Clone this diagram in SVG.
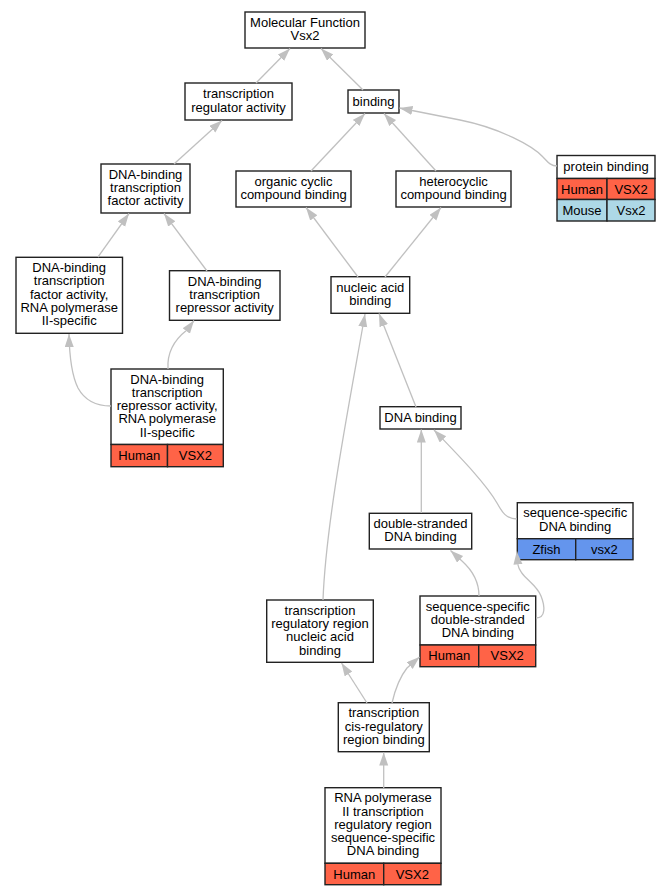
<svg xmlns="http://www.w3.org/2000/svg" width="669" height="896" viewBox="0 0 669 896">
<style>
rect{fill:#fff;stroke:#222;stroke-width:1.4}
rect.h{fill:#ff6347}
rect.m{fill:#add8e6}
rect.z{fill:#6495ed}
text{font-family:"Liberation Sans",Arial,sans-serif;font-size:13px;text-anchor:middle;fill:#000}
#edges path{fill:none;stroke:#c0c0c0;stroke-width:1.3;marker-end:url(#arr)}
</style>
<defs>
<marker id="arr" markerUnits="userSpaceOnUse" markerWidth="14" markerHeight="10" refX="13" refY="4.5" orient="auto" viewBox="0 0 14 10">
<path d="M0,0 L13,4.5 L0,9 z" fill="#c0c0c0"/>
</marker>
</defs>
<rect x="0" y="0" width="669" height="896" style="fill:#fff;stroke:none"/>
<g id="n1"><rect x="245" y="12" width="120" height="36"/><text x="305" y="26.7">Molecular Function</text><text x="305" y="40">Vsx2</text></g>
<g id="n2"><rect x="185" y="83" width="107" height="37"/><text x="238.5" y="98.2">transcription</text><text x="238.5" y="111.5">regulator activity</text></g>
<g id="n3"><rect x="348" y="90" width="51" height="23"/><text x="373.5" y="105.5">binding</text></g>
<g id="n4"><rect x="101" y="164" width="89" height="49"/><text x="145.5" y="178.5">DNA-binding</text><text x="145.5" y="191.8">transcription</text><text x="145.5" y="205.1">factor activity</text></g>
<g id="n5"><rect x="236" y="171" width="115" height="36"/><text x="293.5" y="185.7">organic cyclic</text><text x="293.5" y="199">compound binding</text></g>
<g id="n6"><rect x="396" y="171" width="115" height="36"/><text x="453.5" y="185.7">heterocyclic</text><text x="453.5" y="199">compound binding</text></g>
<g id="n7"><rect x="557" y="155.5" width="98" height="23"/><rect class="h" x="557" y="178.5" width="50" height="21"/><rect class="h" x="607" y="178.5" width="48" height="21"/><rect class="m" x="557" y="199.5" width="50" height="21.5"/><rect class="m" x="607" y="199.5" width="48" height="21.5"/><text x="606" y="171">protein binding</text><text x="582" y="193.5">Human</text><text x="631" y="193.5">VSX2</text><text x="582" y="214.7">Mouse</text><text x="631" y="214.7">Vsx2</text></g>
<g id="n8"><rect x="16" y="257.3" width="106.5" height="76"/><text x="69.2" y="272">DNA-binding</text><text x="69.2" y="285.3">transcription</text><text x="69.2" y="298.6">factor activity,</text><text x="69.2" y="311.9">RNA polymerase</text><text x="69.2" y="325.2">II-specific</text></g>
<g id="n9"><rect x="169.5" y="270.7" width="110.5" height="49.6"/><text x="224.7" y="285.5">DNA-binding</text><text x="224.7" y="298.8">transcription</text><text x="224.7" y="312.1">repressor activity</text></g>
<g id="n10"><rect x="331" y="276.7" width="78.7" height="36.6"/><text x="370.3" y="291.6">nucleic acid</text><text x="370.3" y="304.9">binding</text></g>
<g id="n11"><rect x="111" y="369" width="112.3" height="75.5"/><rect class="h" x="111" y="444.5" width="56.5" height="22.2"/><rect class="h" x="167.5" y="444.5" width="55.8" height="22.2"/><text x="167.2" y="383.5">DNA-binding</text><text x="167.2" y="396.8">transcription</text><text x="167.2" y="410.1">repressor activity,</text><text x="167.2" y="423.4">RNA polymerase</text><text x="167.2" y="436.7">II-specific</text><text x="139.3" y="460">Human</text><text x="195.4" y="460">VSX2</text></g>
<g id="n12"><rect x="380" y="406.7" width="81" height="22.3"/><text x="420.5" y="422">DNA binding</text></g>
<g id="n13"><rect x="369.3" y="513.3" width="102.4" height="35.7"/><text x="420.5" y="527.8">double-stranded</text><text x="420.5" y="541.1">DNA binding</text></g>
<g id="n14"><rect x="517.3" y="502.7" width="115.7" height="36"/><rect class="z" x="517.3" y="538.7" width="58.4" height="21"/><rect class="z" x="575.7" y="538.7" width="57.3" height="21"/><text x="575.2" y="517.3">sequence-specific</text><text x="575.2" y="530.6">DNA binding</text><text x="546.5" y="553.7">Zfish</text><text x="604.3" y="553.7">vsx2</text></g>
<g id="n15"><rect x="266.7" y="600" width="106.6" height="62.3"/><text x="320" y="614.6">transcription</text><text x="320" y="627.9">regulatory region</text><text x="320" y="641.2">nucleic acid</text><text x="320" y="654.5">binding</text></g>
<g id="n16"><rect x="420" y="596" width="115.7" height="49"/><rect class="h" x="420" y="645" width="58.7" height="21.7"/><rect class="h" x="478.7" y="645" width="57" height="21.7"/><text x="477.8" y="610.5">sequence-specific</text><text x="477.8" y="623.8">double-stranded</text><text x="477.8" y="637.1">DNA binding</text><text x="449.3" y="660.4">Human</text><text x="507.2" y="660.4">VSX2</text></g>
<g id="n17"><rect x="338.3" y="702.7" width="91" height="49"/><text x="383.8" y="717.2">transcription</text><text x="383.8" y="730.5">cis-regulatory</text><text x="383.8" y="743.8">region binding</text></g>
<g id="n18"><rect x="325" y="787.7" width="116" height="75.6"/><rect class="h" x="325" y="863.3" width="58.7" height="21.4"/><rect class="h" x="383.7" y="863.3" width="57.3" height="21.4"/><text x="383" y="802.2">RNA polymerase</text><text x="383" y="815.5">II transcription</text><text x="383" y="828.8">regulatory region</text><text x="383" y="842.1">sequence-specific</text><text x="383" y="855.4">DNA binding</text><text x="354.3" y="878.5">Human</text><text x="412.3" y="878.5">VSX2</text></g>
<g id="edges">
<path d="M256,83 L290,48.5"/>
<path d="M363,90 L321,48.5"/>
<path d="M174,164 L222,120.5"/>
<path d="M311,171 L365,113.5"/>
<path d="M436,171 L384,113.5"/>
<path d="M557,166 C550,166 547,161 543,157 C533,146 500,128 460,120 C440,116 420,112 399.5,108"/>
<path d="M98,257 L129,213.5"/>
<path d="M207,271 L164,213.5"/>
<path d="M358,277 L306,207.5"/>
<path d="M385,277 L441,207.5"/>
<path d="M111,406 C95,406 84,399 78,388 C72,376 69.5,360 69,334"/>
<path d="M168,369 C167,354 174,340 187,330 L194,320.5"/>
<path d="M416,407 L379,313.5"/>
<path d="M323,600 C326,520 350,400 365,314"/>
<path d="M421.3,513 L421.3,429.5"/>
<path d="M517,519 C506,519 502,512 497,503 C485,482 455,452 434,430"/>
<path d="M479,596 C479,582 472,570 462,561 L450.5,550.5"/>
<path d="M536,618 C546,618 545,606 541,596 C536,583 520,577 518,565 L516.7,551.5"/>
<path d="M367,703 L341.5,663"/>
<path d="M392,703 C395,690 399,678 407,668 L419.5,657"/>
<path d="M383.7,788 L383.7,752.5"/>
</g>
</svg>
